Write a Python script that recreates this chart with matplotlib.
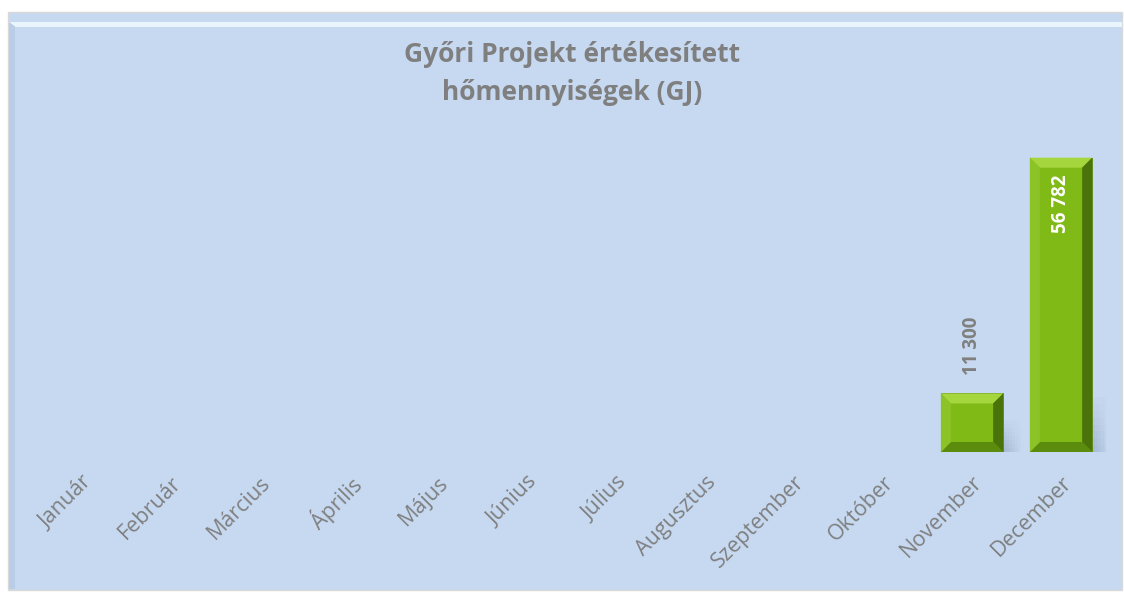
import matplotlib
matplotlib.use('Agg')
import matplotlib.pyplot as plt
from matplotlib.patches import Rectangle, Polygon
from matplotlib.transforms import ScaledTranslation

plt.rcParams['font.family'] = ['Open Sans', 'DejaVu Sans']

months = ['Január', 'Február', 'Március', 'Április', 'Május', 'Június',
          'Július', 'Augusztus', 'Szeptember', 'Október', 'November', 'December']
values = [0, 0, 0, 0, 0, 0, 0, 0, 0, 0, 11300, 56782]
value_labels = ['', '', '', '', '', '', '', '', '', '', '11 300', '56 782']

title_lines = ['Győri Projekt értékesített', 'hőmennyiségek (GJ)']
gray = '#7F7F7F'
panel_color = '#C6D9F1'

fig = plt.figure(figsize=(11.24, 5.92), dpi=100)
fig.patch.set_facecolor('white')

W, H = 1124, 592
# chart panel
fig.patches.append(Rectangle((8 / W, 2 / H), 1114 / W, 578 / H,
                             transform=fig.transFigure, facecolor=panel_color,
                             edgecolor='#D9D9D9', linewidth=1.0, zorder=-10))
fig.patches.append(Polygon([(9 / W, 570 / H), (1122 / W, 570 / H), (1122 / W, 565 / H),
                            (16 / W, 565 / H)],
                           transform=fig.transFigure, facecolor='#EAF4FD',
                           edgecolor='none', zorder=-9))
fig.patches.append(Polygon([(9 / W, 3 / H), (9 / W, 570 / H), (15 / W, 565 / H),
                            (15 / W, 3 / H)],
                           transform=fig.transFigure, facecolor='#B9CDE6',
                           edgecolor='none', zorder=-9))

ax = fig.add_axes([37.5 / W, 140 / H, 1068 / W, 311 / H])
ax.patch.set_alpha(0)
x = list(range(len(months)))
bars = ax.bar(x, values, width=0.7, color='#80BA17', edgecolor='#5E8A10',
              linewidth=0.6, zorder=2)
ax.set_xlim(-0.5, len(months) - 0.5)
ax.set_ylim(0, 60000)
for s in ax.spines.values():
    s.set_visible(False)
ax.set_yticks([])
ax.set_xticks(x)
ax.set_xticklabels(months, rotation=45, ha='right', va='top', rotation_mode='anchor',
                   fontsize=15.5, color=gray)
ax.tick_params(axis='x', length=0, pad=0)
offset = ScaledTranslation(0 / 100, -20 / 100, fig.dpi_scale_trans)
for t in ax.get_xticklabels():
    t.set_transform(t.get_transform() + offset)

fig.canvas.draw()
inv = ax.transData.inverted()
bev = 10  # bevel size in pixels
for b, v, lab in zip(bars, values, value_labels):
    if v <= 0:
        continue
    x0, y0 = ax.transData.transform((b.get_x(), 0))
    x1, y1 = ax.transData.transform((b.get_x() + b.get_width(), v))
    pts = {
        'top': ([(x0, y1), (x1, y1), (x1 - bev, y1 - bev), (x0 + bev, y1 - bev)], '#A6D63E'),
        'bottom': ([(x0, y0), (x1, y0), (x1 - bev, y0 + bev), (x0 + bev, y0 + bev)], '#5C8C0E'),
        'left': ([(x0, y0), (x0, y1), (x0 + bev, y1 - bev), (x0 + bev, y0 + bev)], '#8CC428'),
        'right': ([(x1, y0), (x1, y1), (x1 - bev, y1 - bev), (x1 - bev, y0 + bev)], '#4A7309'),
    }
    for poly, c in pts.values():
        ax.add_patch(Polygon([inv.transform(p) for p in poly], closed=True,
                             facecolor=c, edgecolor='none', zorder=3))
    # soft shadow on the right
    sh = min(55, (y1 - y0) * 0.55)
    nx, ny = 6, 8
    for i in range(nx):
        for j in range(ny):
            a = 0.22 * (1 - i / nx) * (1 - j / ny)
            p0 = inv.transform((x1 + i * 3, y0 + j * sh / ny))
            p1 = inv.transform((x1 + i * 3 + 3, y0 + (j + 1) * sh / ny))
            ax.add_patch(Rectangle((p0[0], p0[1]), p1[0] - p0[0], p1[1] - p0[1],
                                   facecolor='#3A4E6A', alpha=a, edgecolor='none',
                                   zorder=1))
    if v > 30000:
        ax.annotate(lab, (b.get_x() + b.get_width() / 2, v), xytext=(0, -12),
                    textcoords='offset points', rotation=90, ha='center', va='top',
                    fontsize=13.5, fontweight='bold', color='white', zorder=5)
    else:
        ax.annotate(lab, (b.get_x() + b.get_width() / 2, v), xytext=(0, 13),
                    textcoords='offset points', rotation=90, ha='center', va='bottom',
                    fontsize=13.5, fontweight='bold', color=gray, zorder=5)

for i, line in enumerate(title_lines):
    fig.text(572 / W, 1 - (62 + 38 * i) / H, line, ha='center', va='baseline',
             fontsize=19, fontweight='bold', color=gray)

fig.savefig('out.png', dpi=100, facecolor=fig.get_facecolor())
